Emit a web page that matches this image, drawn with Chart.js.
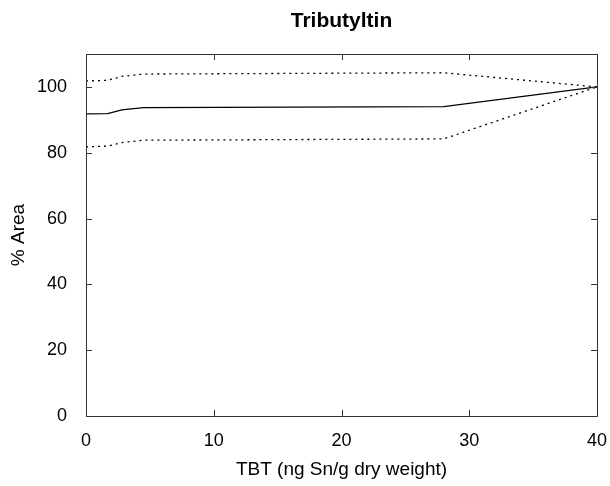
<!DOCTYPE html>
<html>
<head>
<meta charset="utf-8">
<script src="https://cdn.jsdelivr.net/npm/chart.js@4/dist/chart.umd.min.js"></script>
<style>
  html, body { margin: 0; padding: 0; background: #fff; }
  #wrap { width: 610px; height: 486px; }
</style>
</head>
<body>
<div id="wrap"><canvas id="chart"></canvas></div>
<script>
// TBT concentration (ng Sn/g dry weight)
const tbt = [0, 1.7, 2.8, 4.5, 28, 40];
// % Area, fit and confidence band
const areaFit = [91.8, 91.9, 93.0, 93.7, 94.0, 100];
const areaUpper = [101.8, 102.0, 103.2, 103.9, 104.3, 100];
const areaLower = [81.8, 82.0, 83.1, 83.8, 84.2, 100];
const xTicks = [0, 10, 20, 30, 40];
const yTicks = [0, 20, 40, 60, 80, 100];

const pts = ys => tbt.map((x, i) => ({ x: x, y: ys[i] }));
const FONT = 'Liberation Sans, Arial, sans-serif';

// frame with inward ticks on all four sides
const framePlugin = {
    id: 'frame',
    afterDatasetsDraw(chart) {
        const { ctx, chartArea: a, scales } = chart;
        const len = 6;
        ctx.save();
        ctx.strokeStyle = '#333';
        ctx.lineWidth = 1;
        ctx.beginPath();
        ctx.rect(Math.round(a.left) + 0.5, Math.round(a.top) + 0.5,
            Math.round(a.right - a.left), Math.round(a.bottom - a.top));
        xTicks.forEach(v => {
            const px = Math.round(scales.x.getPixelForValue(v)) + 0.5;
            ctx.moveTo(px, a.bottom); ctx.lineTo(px, a.bottom - len);
            ctx.moveTo(px, a.top); ctx.lineTo(px, a.top + len);
        });
        yTicks.forEach(v => {
            const py = Math.round(scales.y.getPixelForValue(v)) + 0.5;
            ctx.moveTo(a.left, py); ctx.lineTo(a.left + len, py);
            ctx.moveTo(a.right, py); ctx.lineTo(a.right - len, py);
        });
        ctx.stroke();
        ctx.restore();
    }
};

new Chart(document.getElementById('chart'), {
    type: 'line',
    data: {
        datasets: [
            { data: pts(areaUpper), borderColor: '#000', borderWidth: 1.3, borderDash: [2, 4] },
            { data: pts(areaFit), borderColor: '#000', borderWidth: 1.3 },
            { data: pts(areaLower), borderColor: '#000', borderWidth: 1.3, borderDash: [2, 4] },
        ]
    },
    plugins: [framePlugin],
    options: {
        responsive: true,
        maintainAspectRatio: false,
        animation: false,
        layout: { padding: { left: 0, right: 13, top: 0, bottom: 0 } },
        elements: { point: { radius: 0 }, line: { tension: 0 } },
        plugins: {
            legend: { display: false },
            tooltip: { enabled: false }
        },
        scales: {
            x: {
                type: 'linear', min: 0, max: 40,
                afterFit: s => { s.height = 70; s.paddingLeft = 0; s.paddingRight = 0; },
                afterBuildTicks: s => { s.ticks = xTicks.map(v => ({ value: v })); },
                grid: { display: false },
                border: { display: false },
                ticks: { color: '#000', padding: 6, font: { family: FONT, size: 18 }, maxRotation: 0 },
                title: { display: true, text: 'TBT (ng Sn/g dry weight)', color: '#000',
                    font: { family: FONT, size: 19 }, padding: { bottom: 5 } }
            },
            // top axis only carries the chart title, centred over the plot
            top: {
                type: 'linear', position: 'top', min: 0, max: 40,
                afterFit: s => { s.height = 54; s.paddingLeft = 0; s.paddingRight = 0; },
                grid: { display: false },
                border: { display: false },
                ticks: { display: false },
                title: { display: true, text: 'Tributyltin', color: '#000',
                    font: { family: FONT, size: 21, weight: 'bold' }, padding: { top: 9 } }
            },
            y: {
                min: 0, max: 110,
                afterFit: s => { s.width = 86; },
                afterBuildTicks: s => { s.ticks = yTicks.map(v => ({ value: v })); },
                grid: { display: false },
                border: { display: false },
                ticks: { color: '#000', padding: 11, font: { family: FONT, size: 18 } },
                title: { display: true, text: '% Area', color: '#000',
                    font: { family: FONT, size: 19 }, padding: { top: 7 } }
            }
        }
    }
});
</script>
</body>
</html>
